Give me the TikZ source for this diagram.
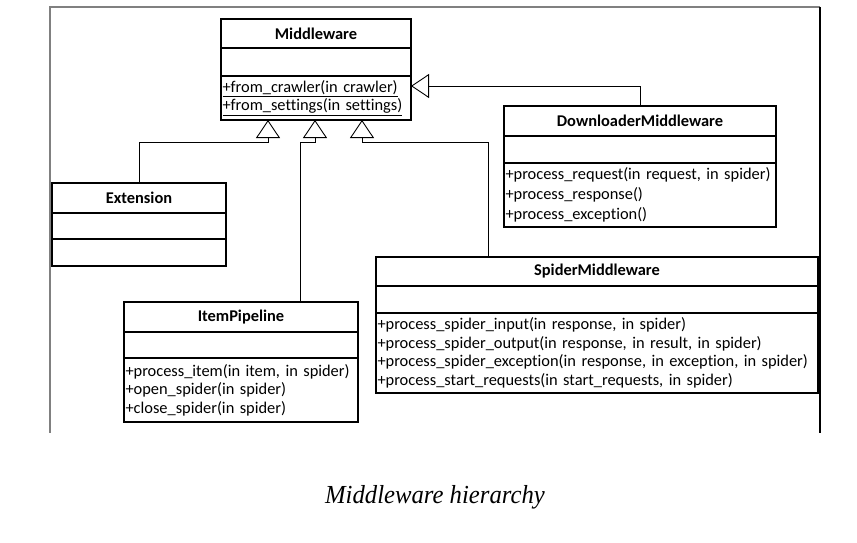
\documentclass[tikz,border=0pt]{standalone}
\usepackage{fontspec}
\usepackage{graphicx}
\usepackage{tikz}
\usetikzlibrary{arrows.meta}
\usetikzlibrary{calc}
\newfontfamily\umlfont[Ligatures=NoCommon]{Carlito}
\newfontfamily\capfont{Liberation Serif}

\begin{document}
\begin{tikzpicture}[
        x=1pt, y=-1pt,
        font=\umlfont\fontsize{16.4}{18.5}\selectfont,
        classhead/.style={draw, line width=1.2pt, inner sep=0pt, outer sep=0pt, anchor=north west, font=\umlfont\bfseries\fontsize{16.4}{18.5}\selectfont},
        classpart/.style={draw, line width=1.2pt, inner sep=0pt, outer sep=0pt, anchor=north west},
        classops/.style={draw, line width=1.2pt, inner xsep=1.5pt, inner ysep=0pt, outer sep=0pt, anchor=north west, align=left},
        genline/.style={-{Triangle[open, length=18pt, width=24pt]}, line width=0.9pt},
        frameline/.style={line width=2pt, gray}
    ]
        \useasboundingbox (0,0) rectangle (857,543);

        % --- Marco de la figura ---
        \draw[frameline] (49,7.5) -- (820,7.5);
        \draw[frameline] (50,7.5) -- (50,433);
        \draw[line width=1.2pt] (820,7) -- (820,433);

        % --- Middleware ---
        \node[classhead, minimum width=190, minimum height=29] (mwHead) at (221,19) {Middleware};
        \node[classpart, minimum width=190, minimum height=28] (mwAttr) at (mwHead.south west) {};
        \node[classops, minimum height=44, text width=187] (mwOps) at (mwAttr.south west)
            {\mbox{\underline{+from\_crawler(in crawler)}}\\\mbox{\underline{+from\_settings(in settings)}}};

        % --- DownloaderMiddleware ---
        \node[classhead, minimum width=272, minimum height=30] (dlHead) at (504,106) {DownloaderMiddleware};
        \node[classpart, minimum width=272, minimum height=27] (dlAttr) at (dlHead.south west) {};
        \node[classops, minimum height=64, text width=269, font=\umlfont\fontsize{16.4}{20}\selectfont] (dlOps) at (dlAttr.south west)
            {\mbox{+process\_request(in request, in spider)}\\+process\_response()\\+process\_exception()};

        % --- Extension ---
        \node[classhead, minimum width=174, minimum height=30] (extHead) at (52,183) {Extension};
        \node[classpart, minimum width=174, minimum height=26] (extAttr) at (extHead.south west) {};
        \node[classpart, minimum width=174, minimum height=27] (extOps) at (extAttr.south west) {};

        % --- ItemPipeline ---
        \node[classhead, minimum width=234, minimum height=30] (itemHead) at (124,302) {ItemPipeline};
        \node[classpart, minimum width=234, minimum height=26] (itemAttr) at (itemHead.south west) {};
        \node[classops, minimum height=64, text width=231] (itemOps) at (itemAttr.south west)
            {\mbox{+process\_item(in item, in spider)}\\+open\_spider(in spider)\\+close\_spider(in spider)};

        % --- SpiderMiddleware ---
        \node[classhead, minimum width=442, minimum height=29] (spHead) at (376,257) {SpiderMiddleware};
        \node[classpart, minimum width=442, minimum height=27] (spAttr) at (spHead.south west) {};
        \node[classops, minimum height=80, text width=439] (spOps) at (spAttr.south west)
            {\mbox{+process\_spider\_input(in response, in spider)}\\
             \mbox{+process\_spider\_output(in response, in result, in spider)}\\
             \mbox{+process\_spider\_exception(in response, in exception, in spider)}\\
             \mbox{+process\_start\_requests(in start\_requests, in spider)}};

        % --- Herencia hacia Middleware ---
        \coordinate (bendExt) at (268,142);
        \coordinate (bendItem) at (315,142);
        \coordinate (bendSp) at (362,142);
        \coordinate (itemTop) at (300,0 |- itemHead.north);
        \coordinate (spTop) at (488,0 |- spHead.north);
        \coordinate (dlTip) at (mwOps.east |- 0,86);

        \draw[genline] (extHead.north) |- (bendExt) -- (mwOps.south -| bendExt);
        \draw[genline] (itemTop) |- (bendItem) -- (mwOps.south -| bendItem);
        \draw[genline] (spTop) |- (bendSp) -- (mwOps.south -| bendSp);
        \draw[genline] (dlHead.north) |- (dlTip);

        % --- Pie de figura ---
        \node[anchor=base, font=\capfont\itshape\fontsize{26}{30}\selectfont] (caption) at (435,503)
            {\scalebox{0.95}[1]{Middleware hierarchy}};
\end{tikzpicture}
\end{document}
